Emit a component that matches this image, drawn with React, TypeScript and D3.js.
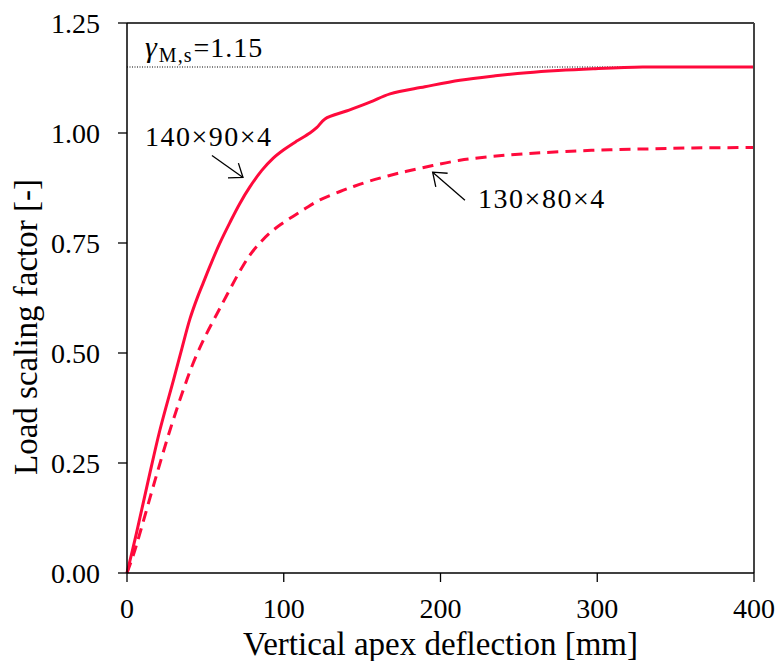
import React from "react";
import * as d3 from "d3";

const xTicks = [0, 100, 200, 300, 400];
const yTicks = [0, 0.25, 0.5, 0.75, 1.0, 1.25];

const solidX = [0, 6, 13.6, 21, 29.6, 35, 40.2, 45, 48.7, 53, 59, 65.7, 72, 78.5, 86, 93.3, 100, 108, 116.7, 121, 126.3, 140, 155, 167.8, 190, 212.4, 235, 255, 275, 297.5, 329, 360, 400];
const solidY = [0, 0.09, 0.211, 0.325, 0.438, 0.51, 0.578, 0.627, 0.66, 0.698, 0.748, 0.797, 0.84, 0.878, 0.915, 0.943, 0.962, 0.981, 1.0, 1.012, 1.032, 1.05, 1.07, 1.089, 1.105, 1.12, 1.13, 1.137, 1.142, 1.146, 1.15, 1.15, 1.15];

const dashX = [0, 4, 9, 17.9, 27, 35.9, 42, 48.7, 55, 59.3, 65.7, 72, 78.5, 85, 91.2, 98, 106.1, 114, 123.1, 135.9, 145, 155, 167, 178.4, 195, 212.4, 233, 255, 280, 308, 335, 361, 400];
const dashY = [0, 0.04, 0.1, 0.211, 0.32, 0.416, 0.475, 0.529, 0.573, 0.602, 0.645, 0.686, 0.723, 0.751, 0.773, 0.792, 0.811, 0.829, 0.848, 0.867, 0.879, 0.891, 0.903, 0.913, 0.926, 0.938, 0.947, 0.953, 0.958, 0.962, 0.964, 0.966, 0.967];

const gammaValue = 1.15;
const seriesLabels = ["140×90×4", "130×80×4"];
// annotation anchors in data units
const labelPos = [[11.5, 0.97], [224, 0.829]];
const arrowFrom = [[54.2, 0.949], [215.6, 0.847]];
const arrowTo = [[74, 0.899], [195, 0.911]];
const gammaPos = [11.5, 1.172];

const W = 779, H = 661;
const M = { left: 127, right: 25, top: 23, bottom: 88 };
const RED = "#ff0a3c";
const FONT = "'Liberation Serif', 'Times New Roman', serif";

export default function App() {
  const x = d3.scaleLinear().domain([0, 400]).range([M.left, W - M.right]);
  const y = d3.scaleLinear().domain([0, 1.25]).range([H - M.bottom, M.top]);
  const line = d3.line<[number, number]>().x(d => x(d[0])).y(d => y(d[1])).curve(d3.curveCatmullRom.alpha(0.5));
  const solid = solidX.map((v, i) => [v, solidY[i]] as [number, number]);
  const dashed = dashX.map((v, i) => [v, dashY[i]] as [number, number]);
  const x0 = x(0), x1 = x(400), y0 = y(0), y1 = y(1.25);

  return (
    <svg width={W} height={H} style={{ position: "absolute", left: 0, top: 0, background: "#fff" }} fontFamily={FONT}>
      <defs>
        <marker id="arr" viewBox="-16 -12 20 24" markerWidth={20} markerHeight={24} refX={0} refY={0} orient="auto" markerUnits="userSpaceOnUse">
          <path d="M-12,-9 L0,0 L-12,9" fill="none" stroke="#000" strokeWidth={1.3} />
        </marker>
      </defs>
      {/* gamma line */}
      <line x1={x0} x2={x1} y1={y(gammaValue)} y2={y(gammaValue)} stroke="#000" strokeWidth={1} strokeDasharray="1,1.5" />
      {/* curves */}
      <path d={line(dashed) || ""} fill="none" stroke={RED} strokeWidth={3} strokeDasharray="11,7" />
      <path d={line(solid) || ""} fill="none" stroke={RED} strokeWidth={3} />
      {/* frame */}
      <line x1={x0} x2={x1} y1={y1} y2={y1} stroke="#000" strokeWidth={1.3} />
      <line x1={x1} x2={x1} y1={y1} y2={y0} stroke="#444" strokeWidth={2} />
      <line x1={x0} x2={x0} y1={y1} y2={y0} stroke="#000" strokeWidth={1.5} />
      <line x1={x0} x2={x1} y1={y0} y2={y0} stroke="#000" strokeWidth={1.5} />
      {/* y ticks */}
      {yTicks.map(t => (
        <g key={"y" + t}>
          <line x1={x0 - 9} x2={x0} y1={y(t)} y2={y(t)} stroke="#000" strokeWidth={1.3} />
          <text x={x0 - 27} y={y(t)} dy="0.35em" textAnchor="end" fontSize={28} fill="#000">{t.toFixed(2)}</text>
        </g>
      ))}
      {/* x ticks */}
      {xTicks.map(t => (
        <g key={"x" + t}>
          <line x1={x(t)} x2={x(t)} y1={y0} y2={y0 + 9} stroke="#000" strokeWidth={1.3} />
          <text x={x(t)} y={618} textAnchor="middle" fontSize={28} fill="#000">{t}</text>
        </g>
      ))}
      {/* axis titles */}
      <text x={(x0 + x1) / 2} y={655} textAnchor="middle" fontSize={33} fill="#000">Vertical apex deflection [mm]</text>
      <text transform={`translate(37,327) rotate(-90)`} textAnchor="middle" fontSize={33} fill="#000">Load scaling factor [-]</text>
      {/* gamma label */}
      <text x={x(gammaPos[0])} y={y(gammaPos[1])} fontSize={28} fill="#000" letterSpacing={1}>
        <tspan fontStyle="italic" fontSize={30}>γ</tspan>
        <tspan fontSize={20} dy={5} dx={1}>M,s</tspan>
        <tspan dy={-5} dx={1}>=1.15</tspan>
      </text>
      {/* series labels + arrows */}
      {seriesLabels.map((s, i) => (
        <g key={s}>
          <text x={x(labelPos[i][0])} y={y(labelPos[i][1])} fontSize={28} letterSpacing={1.5} fill="#000">{s}</text>
          <line x1={x(arrowFrom[i][0])} y1={y(arrowFrom[i][1])} x2={x(arrowTo[i][0])} y2={y(arrowTo[i][1])} stroke="#000" strokeWidth={1.3} markerEnd="url(#arr)" />
        </g>
      ))}
    </svg>
  );
}
